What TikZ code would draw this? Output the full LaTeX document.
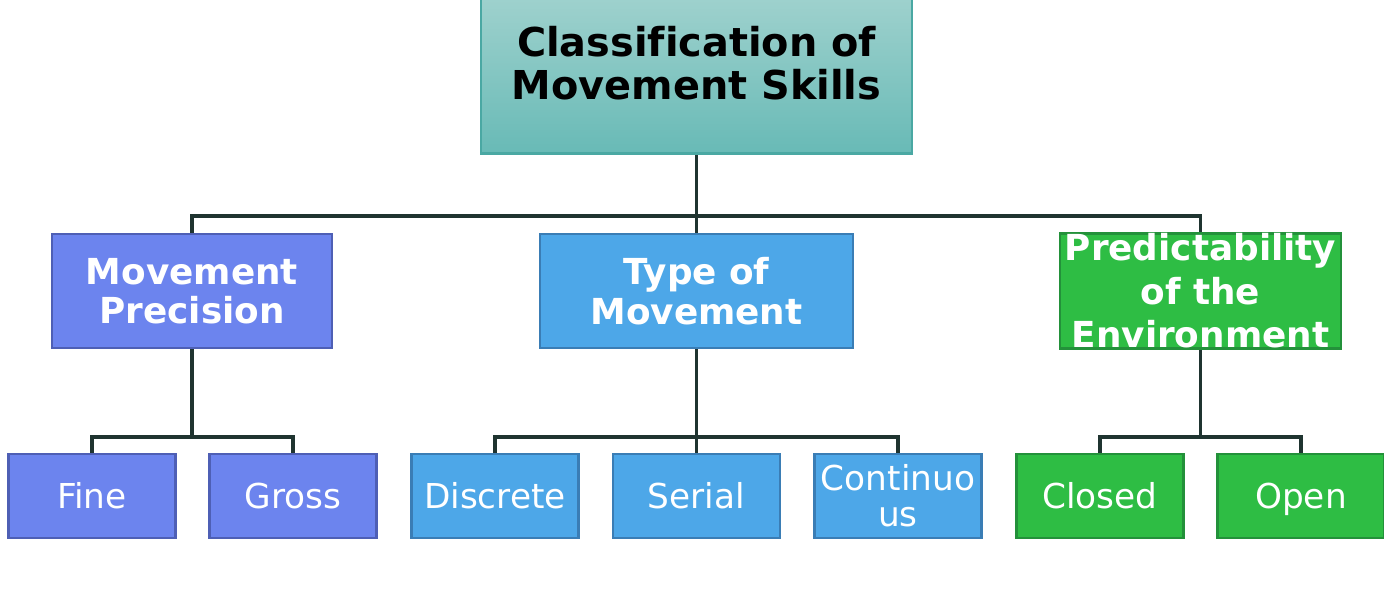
\documentclass[tikz,border=0pt]{standalone}
\usepackage{fontspec}
\setmainfont[Ligatures=NoCommon]{DejaVu Sans}
\definecolor{tealtop}{HTML}{9ED1CD}
\definecolor{tealbot}{HTML}{68BAB6}
\definecolor{tealline}{HTML}{4AA8A3}
\definecolor{precfill}{HTML}{6C84EE}
\definecolor{precline}{HTML}{4E5FB5}
\definecolor{typefill}{HTML}{4DA7E8}
\definecolor{typeline}{HTML}{3A7DB5}
\definecolor{envfill}{HTML}{2EBD44}
\definecolor{envline}{HTML}{23913A}
\definecolor{wire}{HTML}{1F3430}
\begin{document}
\begin{tikzpicture}[x=1pt,y=-1pt,
    box/.style={rectangle, line width=2.8pt, inner sep=0pt, text=white, align=center},
    rootbox/.style={rectangle, line width=2.8pt, top color=tealtop, bottom color=tealbot,
      draw=tealline, minimum width=431pt, minimum height=155pt},
    title/.style={align=center, font=\fontsize{39.8}{43}\selectfont\bfseries},
    mid/.style={box, minimum width=280pt, minimum height=114pt,
      font=\fontsize{35.8}{39.5}\selectfont\bfseries},
    leaf/.style={box, minimum width=167pt, minimum height=84pt,
      font=\fontsize{34.3}{36}\selectfont},
    oneline/.style={text height=25pt, text depth=0pt},
    prec/.style={fill=precfill, draw=precline},
    kind/.style={fill=typefill, draw=typeline},
    env/.style={fill=envfill, draw=envline},
    wires/.style={draw=wire, line width=3.4pt}]
  \useasboundingbox (0,0) rectangle (1384,590);
  % top
  \node[rootbox] (root) at (696.5,76) {};
  \node[title] (rootname) at (696.5,63) {Classification of\\Movement Skills};
  % second row
  \node[mid, prec] (mp) at (192,291) {Movement\\Precision};
  \node[mid, kind, minimum width=313pt] (tm) at (696.5,291) {Type of\\Movement};
  \node[mid, env, minimum width=281pt, font=\fontsize{35.8}{43.5}\selectfont\bfseries] (pe) at (1200.5,291) {Predictability\\of the\\Environment};
  % third row
  \node[leaf, oneline, prec] (fine) at (92,496) {Fine};
  \node[leaf, oneline, prec] (gross) at (293,496) {Gross};
  \node[leaf, oneline, kind] (discrete) at (495,496) {Discrete};
  \node[leaf, oneline, kind] (serial) at (696.5,496) {Serial};
  \node[leaf, kind] (cont) at (898,496) {Continuo\\us};
  \node[leaf, oneline, env] (closed) at (1100,496) {Closed};
  \node[leaf, oneline, env] (open) at (1301,496) {Open};
  %%
  \coordinate (b0) at (696.5,216);
  \coordinate (b1) at (192,437);
  \coordinate (b2) at (696.5,437);
  \coordinate (b3) at (1200.5,437);
  \draw[wires] (root.south) -- (b0);
  \draw[wires] (mp.north) |- (b0) -| (pe.north);
  \draw[wires] (tm.north) -- (b0);
  \draw[wires] (mp.south) -- (b1);
  \draw[wires] (fine.north) |- (b1) -| (gross.north);
  \draw[wires] (tm.south) -- (b2);
  \draw[wires] (discrete.north) |- (b2) -| (cont.north);
  \draw[wires] (serial.north) -- (b2);
  \draw[wires] (pe.south) -- (b3);
  \draw[wires] (closed.north) |- (b3) -| (open.north);
\end{tikzpicture}
\end{document}
